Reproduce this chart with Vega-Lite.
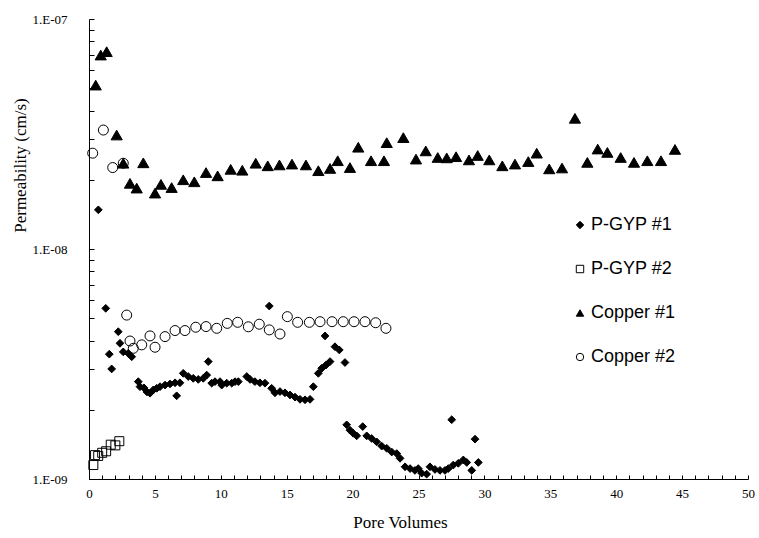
{
  "$schema": "https://vega.github.io/schema/vega-lite/v6.json",
  "width": 659,
  "height": 460,
  "autosize": {"type": "none"},
  "padding": {"left": 89, "top": 19, "right": 11, "bottom": 59},
  "background": "white",
  "config": {
    "view": {"stroke": null},
    "axis": {"domainColor": "black", "tickColor": "black", "labelColor": "black", "titleColor": "black", "labelFont": "Liberation Serif", "titleFont": "Liberation Serif", "labelFontSize": 13, "titleFontSize": 17, "titleFontWeight": "normal", "grid": false},
    "legend": {"labelFont": "Liberation Sans", "labelFontSize": 18, "labelColor": "black", "symbolSize": 55, "rowPadding": 26, "labelOffset": 2, "padding": 0, "symbolStrokeWidth": 1}
  },
  "data": {"values": [
    {"s":"P-GYP #1","x":0.71,"y":1.48e-8},
    {"s":"P-GYP #1","x":1.27,"y":5.52e-9},
    {"s":"P-GYP #1","x":1.54,"y":3.49e-9},
    {"s":"P-GYP #1","x":1.72,"y":3.01e-9},
    {"s":"P-GYP #1","x":2.22,"y":4.37e-9},
    {"s":"P-GYP #1","x":2.35,"y":3.89e-9},
    {"s":"P-GYP #1","x":2.60,"y":3.57e-9},
    {"s":"P-GYP #1","x":2.98,"y":3.52e-9},
    {"s":"P-GYP #1","x":3.24,"y":3.40e-9},
    {"s":"P-GYP #1","x":3.74,"y":2.65e-9},
    {"s":"P-GYP #1","x":3.87,"y":2.52e-9},
    {"s":"P-GYP #1","x":4.17,"y":2.49e-9},
    {"s":"P-GYP #1","x":4.40,"y":2.39e-9},
    {"s":"P-GYP #1","x":4.63,"y":2.36e-9},
    {"s":"P-GYP #1","x":4.88,"y":2.44e-9},
    {"s":"P-GYP #1","x":5.14,"y":2.48e-9},
    {"s":"P-GYP #1","x":5.39,"y":2.52e-9},
    {"s":"P-GYP #1","x":5.77,"y":2.56e-9},
    {"s":"P-GYP #1","x":6.15,"y":2.59e-9},
    {"s":"P-GYP #1","x":6.53,"y":2.62e-9},
    {"s":"P-GYP #1","x":6.65,"y":2.30e-9},
    {"s":"P-GYP #1","x":6.90,"y":2.62e-9},
    {"s":"P-GYP #1","x":7.15,"y":2.88e-9},
    {"s":"P-GYP #1","x":7.53,"y":2.79e-9},
    {"s":"P-GYP #1","x":7.91,"y":2.74e-9},
    {"s":"P-GYP #1","x":8.29,"y":2.71e-9},
    {"s":"P-GYP #1","x":8.67,"y":2.74e-9},
    {"s":"P-GYP #1","x":8.93,"y":2.83e-9},
    {"s":"P-GYP #1","x":9.05,"y":3.24e-9},
    {"s":"P-GYP #1","x":9.31,"y":2.61e-9},
    {"s":"P-GYP #1","x":9.56,"y":2.65e-9},
    {"s":"P-GYP #1","x":9.94,"y":2.65e-9},
    {"s":"P-GYP #1","x":10.07,"y":2.56e-9},
    {"s":"P-GYP #1","x":10.45,"y":2.61e-9},
    {"s":"P-GYP #1","x":10.83,"y":2.61e-9},
    {"s":"P-GYP #1","x":11.08,"y":2.65e-9},
    {"s":"P-GYP #1","x":11.33,"y":2.65e-9},
    {"s":"P-GYP #1","x":11.97,"y":2.79e-9},
    {"s":"P-GYP #1","x":12.22,"y":2.71e-9},
    {"s":"P-GYP #1","x":12.59,"y":2.65e-9},
    {"s":"P-GYP #1","x":12.97,"y":2.62e-9},
    {"s":"P-GYP #1","x":13.35,"y":2.61e-9},
    {"s":"P-GYP #1","x":13.68,"y":5.65e-9},
    {"s":"P-GYP #1","x":13.86,"y":2.48e-9},
    {"s":"P-GYP #1","x":14.11,"y":2.37e-9},
    {"s":"P-GYP #1","x":14.49,"y":2.40e-9},
    {"s":"P-GYP #1","x":14.87,"y":2.37e-9},
    {"s":"P-GYP #1","x":15.25,"y":2.32e-9},
    {"s":"P-GYP #1","x":15.63,"y":2.27e-9},
    {"s":"P-GYP #1","x":16.01,"y":2.22e-9},
    {"s":"P-GYP #1","x":16.39,"y":2.21e-9},
    {"s":"P-GYP #1","x":16.77,"y":2.22e-9},
    {"s":"P-GYP #1","x":17.02,"y":2.52e-9},
    {"s":"P-GYP #1","x":17.40,"y":2.88e-9},
    {"s":"P-GYP #1","x":17.66,"y":3.03e-9},
    {"s":"P-GYP #1","x":17.98,"y":3.13e-9},
    {"s":"P-GYP #1","x":18.29,"y":3.24e-9},
    {"s":"P-GYP #1","x":17.91,"y":4.19e-9},
    {"s":"P-GYP #1","x":18.66,"y":3.76e-9},
    {"s":"P-GYP #1","x":18.99,"y":3.64e-9},
    {"s":"P-GYP #1","x":19.42,"y":3.21e-9},
    {"s":"P-GYP #1","x":19.55,"y":1.72e-9},
    {"s":"P-GYP #1","x":19.80,"y":1.63e-9},
    {"s":"P-GYP #1","x":20.05,"y":1.58e-9},
    {"s":"P-GYP #1","x":20.31,"y":1.54e-9},
    {"s":"P-GYP #1","x":20.77,"y":1.69e-9},
    {"s":"P-GYP #1","x":21.07,"y":1.54e-9},
    {"s":"P-GYP #1","x":21.45,"y":1.50e-9},
    {"s":"P-GYP #1","x":21.83,"y":1.45e-9},
    {"s":"P-GYP #1","x":22.21,"y":1.39e-9},
    {"s":"P-GYP #1","x":22.59,"y":1.36e-9},
    {"s":"P-GYP #1","x":22.97,"y":1.31e-9},
    {"s":"P-GYP #1","x":23.35,"y":1.29e-9},
    {"s":"P-GYP #1","x":23.60,"y":1.23e-9},
    {"s":"P-GYP #1","x":23.98,"y":1.13e-9},
    {"s":"P-GYP #1","x":24.36,"y":1.11e-9},
    {"s":"P-GYP #1","x":24.73,"y":1.09e-9},
    {"s":"P-GYP #1","x":24.98,"y":1.11e-9},
    {"s":"P-GYP #1","x":25.24,"y":1.06e-9},
    {"s":"P-GYP #1","x":25.62,"y":1.05e-9},
    {"s":"P-GYP #1","x":25.87,"y":1.13e-9},
    {"s":"P-GYP #1","x":26.25,"y":1.10e-9},
    {"s":"P-GYP #1","x":26.63,"y":1.09e-9},
    {"s":"P-GYP #1","x":27.01,"y":1.09e-9},
    {"s":"P-GYP #1","x":27.26,"y":1.11e-9},
    {"s":"P-GYP #1","x":27.52,"y":1.81e-9},
    {"s":"P-GYP #1","x":27.64,"y":1.15e-9},
    {"s":"P-GYP #1","x":28.02,"y":1.17e-9},
    {"s":"P-GYP #1","x":28.40,"y":1.21e-9},
    {"s":"P-GYP #1","x":28.66,"y":1.18e-9},
    {"s":"P-GYP #1","x":29.04,"y":1.09e-9},
    {"s":"P-GYP #1","x":29.29,"y":1.49e-9},
    {"s":"P-GYP #1","x":29.54,"y":1.18e-9},
    {"s":"P-GYP #2","x":0.33,"y":1.15e-9},
    {"s":"P-GYP #2","x":0.46,"y":1.27e-9},
    {"s":"P-GYP #2","x":0.70,"y":1.26e-9},
    {"s":"P-GYP #2","x":1.00,"y":1.30e-9},
    {"s":"P-GYP #2","x":1.30,"y":1.32e-9},
    {"s":"P-GYP #2","x":1.65,"y":1.41e-9},
    {"s":"P-GYP #2","x":2.00,"y":1.40e-9},
    {"s":"P-GYP #2","x":2.30,"y":1.46e-9},
    {"s":"Copper #1","x":0.51,"y":5.16e-8},
    {"s":"Copper #1","x":0.89,"y":6.97e-8},
    {"s":"Copper #1","x":1.34,"y":7.21e-8},
    {"s":"Copper #1","x":2.10,"y":3.13e-8},
    {"s":"Copper #1","x":2.60,"y":2.36e-8},
    {"s":"Copper #1","x":3.11,"y":1.93e-8},
    {"s":"Copper #1","x":3.62,"y":1.84e-8},
    {"s":"Copper #1","x":4.12,"y":2.37e-8},
    {"s":"Copper #1","x":5.01,"y":1.75e-8},
    {"s":"Copper #1","x":5.46,"y":1.91e-8},
    {"s":"Copper #1","x":6.27,"y":1.85e-8},
    {"s":"Copper #1","x":7.15,"y":2.0e-8},
    {"s":"Copper #1","x":7.99,"y":1.96e-8},
    {"s":"Copper #1","x":8.88,"y":2.15e-8},
    {"s":"Copper #1","x":9.76,"y":2.08e-8},
    {"s":"Copper #1","x":10.75,"y":2.22e-8},
    {"s":"Copper #1","x":11.63,"y":2.20e-8},
    {"s":"Copper #1","x":12.65,"y":2.36e-8},
    {"s":"Copper #1","x":13.56,"y":2.30e-8},
    {"s":"Copper #1","x":14.45,"y":2.32e-8},
    {"s":"Copper #1","x":15.40,"y":2.34e-8},
    {"s":"Copper #1","x":16.46,"y":2.32e-8},
    {"s":"Copper #1","x":17.40,"y":2.19e-8},
    {"s":"Copper #1","x":18.29,"y":2.24e-8},
    {"s":"Copper #1","x":18.87,"y":2.42e-8},
    {"s":"Copper #1","x":19.80,"y":2.26e-8},
    {"s":"Copper #1","x":20.43,"y":2.77e-8},
    {"s":"Copper #1","x":21.40,"y":2.42e-8},
    {"s":"Copper #1","x":22.38,"y":2.42e-8},
    {"s":"Copper #1","x":22.59,"y":2.90e-8},
    {"s":"Copper #1","x":23.85,"y":3.05e-8},
    {"s":"Copper #1","x":24.81,"y":2.46e-8},
    {"s":"Copper #1","x":25.55,"y":2.67e-8},
    {"s":"Copper #1","x":26.46,"y":2.50e-8},
    {"s":"Copper #1","x":27.14,"y":2.49e-8},
    {"s":"Copper #1","x":27.85,"y":2.52e-8},
    {"s":"Copper #1","x":28.83,"y":2.44e-8},
    {"s":"Copper #1","x":29.49,"y":2.55e-8},
    {"s":"Copper #1","x":30.37,"y":2.44e-8},
    {"s":"Copper #1","x":31.36,"y":2.30e-8},
    {"s":"Copper #1","x":32.32,"y":2.34e-8},
    {"s":"Copper #1","x":33.33,"y":2.40e-8},
    {"s":"Copper #1","x":33.97,"y":2.61e-8},
    {"s":"Copper #1","x":34.92,"y":2.23e-8},
    {"s":"Copper #1","x":35.89,"y":2.25e-8},
    {"s":"Copper #1","x":36.87,"y":3.70e-8},
    {"s":"Copper #1","x":37.81,"y":2.38e-8},
    {"s":"Copper #1","x":38.60,"y":2.72e-8},
    {"s":"Copper #1","x":39.33,"y":2.63e-8},
    {"s":"Copper #1","x":40.34,"y":2.50e-8},
    {"s":"Copper #1","x":41.35,"y":2.38e-8},
    {"s":"Copper #1","x":42.36,"y":2.42e-8},
    {"s":"Copper #1","x":43.40,"y":2.42e-8},
    {"s":"Copper #1","x":44.46,"y":2.71e-8},
    {"s":"Copper #2","x":0.28,"y":2.61e-8},
    {"s":"Copper #2","x":1.09,"y":3.29e-8},
    {"s":"Copper #2","x":1.80,"y":2.26e-8},
    {"s":"Copper #2","x":2.60,"y":2.36e-8},
    {"s":"Copper #2","x":2.86,"y":5.16e-9},
    {"s":"Copper #2","x":3.11,"y":3.98e-9},
    {"s":"Copper #2","x":3.36,"y":3.70e-9},
    {"s":"Copper #2","x":4.00,"y":3.83e-9},
    {"s":"Copper #2","x":4.63,"y":4.19e-9},
    {"s":"Copper #2","x":5.01,"y":3.74e-9},
    {"s":"Copper #2","x":5.77,"y":4.16e-9},
    {"s":"Copper #2","x":6.53,"y":4.42e-9},
    {"s":"Copper #2","x":7.28,"y":4.42e-9},
    {"s":"Copper #2","x":8.10,"y":4.57e-9},
    {"s":"Copper #2","x":8.88,"y":4.60e-9},
    {"s":"Copper #2","x":9.69,"y":4.52e-9},
    {"s":"Copper #2","x":10.49,"y":4.75e-9},
    {"s":"Copper #2","x":11.28,"y":4.80e-9},
    {"s":"Copper #2","x":12.09,"y":4.59e-9},
    {"s":"Copper #2","x":12.92,"y":4.71e-9},
    {"s":"Copper #2","x":13.68,"y":4.45e-9},
    {"s":"Copper #2","x":14.49,"y":4.27e-9},
    {"s":"Copper #2","x":15.05,"y":5.08e-9},
    {"s":"Copper #2","x":15.83,"y":4.80e-9},
    {"s":"Copper #2","x":16.72,"y":4.80e-9},
    {"s":"Copper #2","x":17.53,"y":4.83e-9},
    {"s":"Copper #2","x":18.44,"y":4.83e-9},
    {"s":"Copper #2","x":19.29,"y":4.83e-9},
    {"s":"Copper #2","x":20.11,"y":4.83e-9},
    {"s":"Copper #2","x":20.94,"y":4.83e-9},
    {"s":"Copper #2","x":21.75,"y":4.78e-9},
    {"s":"Copper #2","x":22.53,"y":4.52e-9}
  ]},
  "encoding": {
    "x": {"field": "x", "type": "quantitative", "scale": {"domain": [0, 50], "nice": false, "zero": false},
      "axis": {"title": "Pore Volumes", "tickCount": 50, "tickSize": -4, "labelPadding": 12, "labelExpr": "datum.value % 5 === 0 ? datum.label : ''", "labelFlush": false, "titlePadding": 14, "titleX": 311}},
    "y": {"field": "y", "type": "quantitative", "scale": {"type": "log", "domain": [1e-9, 1e-7], "nice": false},
      "axis": {"title": "Permeability (cm/s)", "tickCount": 20, "tickSize": -5, "labelPadding": 27, "labelExpr": "abs(log(datum.value)/LN10 - round(log(datum.value)/LN10)) < 0.001 ? '1.E-0' + (-round(log(datum.value)/LN10)) : ''", "labelFlush": false, "titleX": -60, "titleY": 146, "titleBaseline": "bottom"}},
    "shape": {"field": "s", "type": "nominal", "scale": {"domain": ["P-GYP #1", "P-GYP #2", "Copper #1", "Copper #2"], "range": ["diamond", "square", "triangle-up", "circle"]},
      "legend": {"title": null, "orient": "none", "legendX": 482, "legendY": 197}},
    "fill": {"field": "s", "type": "nominal", "scale": {"domain": ["P-GYP #1", "P-GYP #2", "Copper #1", "Copper #2"], "range": ["black", "transparent", "black", "transparent"]},
      "legend": {"title": null, "orient": "none", "legendX": 482, "legendY": 197}},
    "stroke": {"field": "s", "type": "nominal", "scale": {"domain": ["P-GYP #1", "P-GYP #2", "Copper #1", "Copper #2"], "range": ["black", "black", "black", "black"]},
      "legend": {"title": null, "orient": "none", "legendX": 482, "legendY": 197}}
  },
  "layer": [
    {"transform": [{"filter": "datum.s === 'P-GYP #1'"}], "mark": {"type": "point", "strokeWidth": 1, "opacity": 1, "size": 60}},
    {"transform": [{"filter": "datum.s === 'P-GYP #2'"}], "mark": {"type": "point", "strokeWidth": 1, "opacity": 1, "size": 81}},
    {"transform": [{"filter": "datum.s === 'Copper #1'"}], "mark": {"type": "point", "strokeWidth": 1, "opacity": 1, "size": 125}},
    {"transform": [{"filter": "datum.s === 'Copper #2'"}], "mark": {"type": "point", "strokeWidth": 1, "opacity": 1, "size": 100}}
  ]
}
